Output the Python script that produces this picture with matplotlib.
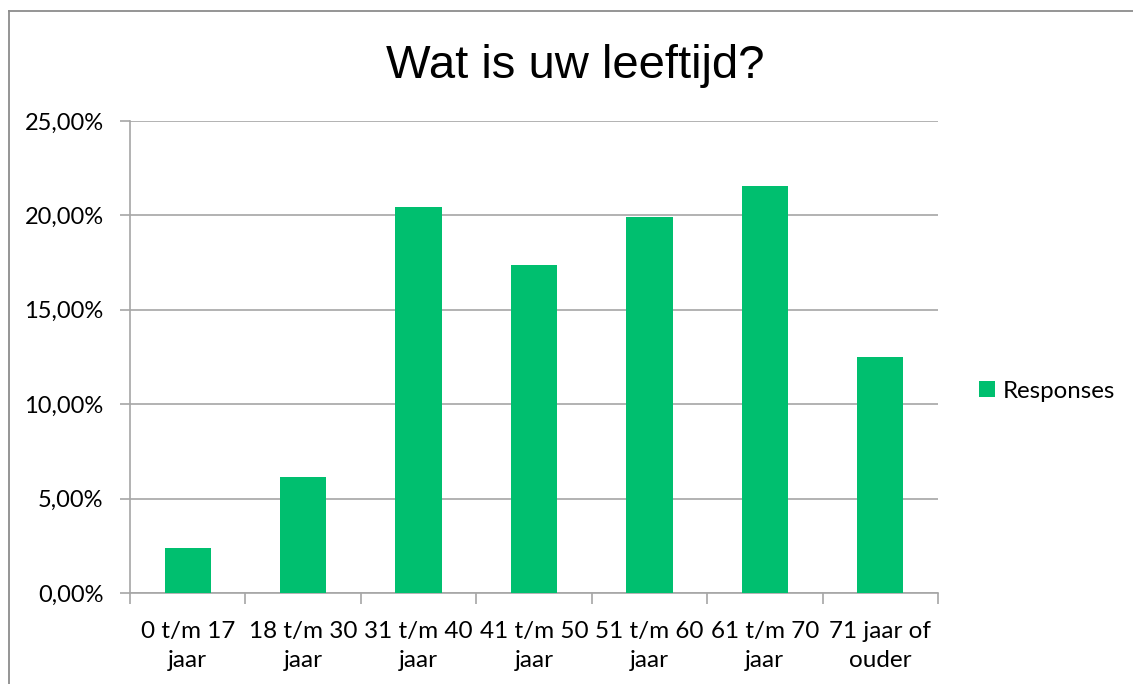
import matplotlib
matplotlib.use("Agg")
import matplotlib.pyplot as plt
from matplotlib.lines import Line2D
from matplotlib.ticker import FuncFormatter, MultipleLocator

categories = ["0 t/m 17\njaar", "18 t/m 30\njaar", "31 t/m 40\njaar", "41 t/m 50\njaar",
              "51 t/m 60\njaar", "61 t/m 70\njaar", "71 jaar of\nouder"]
values = [2.38, 6.14, 20.44, 17.37, 19.92, 21.56, 12.50]
series_name = "Responses"
title = "Wat is uw leeftijd?"

W, H = 1133, 684
fig = plt.figure(figsize=(W / 100, H / 100), dpi=100)
ax = fig.add_axes([130 / W, 1 - 593 / H, (938 - 130) / W, (593 - 121) / H])

green = "#00BF6F"
grid = "#A6A6A6"
font = "Lato"

x = list(range(len(categories)))
ax.bar(x, values, width=0.4, color=green, label=series_name, zorder=3)
ax.set_xlim(-0.5, len(categories) - 0.5)
ax.set_ylim(0, 25)
ax.yaxis.set_major_locator(MultipleLocator(5))
ax.yaxis.set_major_formatter(FuncFormatter(lambda v, p: f"{v:.2f}%".replace(".", ",")))
ax.grid(axis="y", color=grid, linewidth=1.2, zorder=0)

for s in ["top", "right"]:
    ax.spines[s].set_visible(False)
for s in ["left", "bottom"]:
    ax.spines[s].set_color(grid)
    ax.spines[s].set_linewidth(1.2)

ax.set_xticks(x)
ax.set_xticklabels(categories, fontfamily=font, fontsize=17.5, linespacing=1.5)
ax.tick_params(axis="x", length=0, pad=20)
ax.set_xticks([i - 0.5 for i in range(len(categories) + 1)], minor=True)
ax.tick_params(axis="x", which="minor", length=8, color=grid, width=1.2)
ax.tick_params(axis="y", length=7, color=grid, width=1.2, labelsize=17, pad=12)
for lab in ax.get_yticklabels():
    lab.set_fontfamily(font)

fig.text(575 / W, 1 - 66 / H, title, fontfamily="Liberation Sans", fontsize=34,
         ha="center", va="center")

leg = fig.legend(loc="center left", bbox_to_anchor=(979 / W, 1 - 391 / H), frameon=False,
                 prop={"family": font, "size": 17.3}, handlelength=0.65, handleheight=0.65,
                 handletextpad=0.35, borderaxespad=0, borderpad=0)

fig.add_artist(Line2D([9 / W, 9 / W], [0, 1 - 11 / H], color="#8C8C8C", linewidth=1.3,
                      transform=fig.transFigure))
fig.add_artist(Line2D([9 / W, 1], [1 - 11 / H, 1 - 11 / H], color="#8C8C8C", linewidth=1.3,
                      transform=fig.transFigure))

fig.savefig("out.png", dpi=100)
